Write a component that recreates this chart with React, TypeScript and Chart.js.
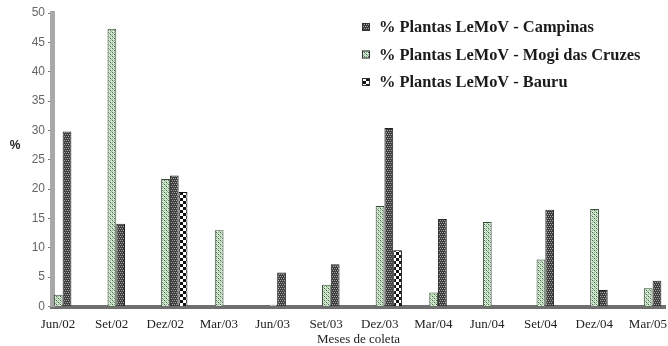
import React, { useEffect, useRef } from 'react';
import { Chart, registerables } from 'chart.js';

Chart.register(...registerables);

const categories = ['Jun/02', 'Set/02', 'Dez/02', 'Mar/03', 'Jun/03', 'Set/03', 'Dez/03', 'Mar/04', 'Jun/04', 'Set/04', 'Dez/04', 'Mar/05'];
const campinas: (number | null)[] = [29.8, 14.1, 22.3, null, 5.8, 7.2, 30.4, 14.9, null, 16.5, 2.8, 4.4];
const mogi: (number | null)[] = [2.0, 47.3, 21.7, 13.0, 0.3, 3.7, 17.1, 2.4, 14.4, 8.0, 16.6, 3.1];
const bauru: (number | null)[] = [null, null, 19.5, null, null, null, 9.6, null, null, null, null, null];
const yTicks = [0, 5, 10, 15, 20, 25, 30, 35, 40, 45, 50];
const legendLabels = ['% Plantas LeMoV - Campinas', '% Plantas LeMoV - Mogi das Cruzes', '% Plantas LeMoV - Bauru'];
const xTitle = 'Meses de coleta';
const yTitle = '%';

function makePattern(size: number, bg: string, layers: [string, number[][]][]): CanvasPattern | string {
  const c = document.createElement('canvas');
  c.width = size;
  c.height = size;
  const g = c.getContext('2d');
  if (!g) return bg;
  g.fillStyle = bg;
  g.fillRect(0, 0, size, size);
  layers.forEach(([color, cells]) => {
    g.fillStyle = color;
    cells.forEach(([x, y, w, h]) => g.fillRect(x, y, w, h));
  });
  const p = g.createPattern(c, 'repeat');
  return p || bg;
}

function toPoints(values: (number | null)[]) {
  const pts: { x: number; y: number }[] = [];
  values.forEach((v, i) => {
    if (v !== null) pts.push({ x: i, y: v });
  });
  return pts;
}

export default function App() {
  const ref = useRef<HTMLCanvasElement>(null);

  useEffect(() => {
    document.body.style.margin = '0';
    const canvas = ref.current;
    if (!canvas) return;

    const campPat = makePattern(4, '#3d3d3d', [['#a8a8a8', [[0, 0, 1, 1], [2, 0, 1, 1], [1, 2, 1, 1], [3, 2, 1, 1]]]]);
    const mogiPat = makePattern(4, '#d4ecd2', [
      ['#4d5d4d', [[0, 0, 1, 1], [2, 2, 1, 1]]],
      ['#8fae8d', [[2, 0, 1, 1], [0, 2, 1, 1], [1, 1, 1, 1], [3, 3, 1, 1]]],
    ]);
    const bauruPat = makePattern(6, '#ffffff', [['#111111', [[0, 0, 3, 3], [3, 3, 3, 3]]]]);

    const legendItems = [
      { text: legendLabels[0], fill: campPat },
      { text: legendLabels[1], fill: mogiPat },
      { text: legendLabels[2], fill: bauruPat },
    ];

    const overlay = {
      id: 'overlay',
      afterDraw(chart: Chart) {
        const ctx = chart.ctx;
        ctx.save();
        legendItems.forEach((it, i) => {
          const y = 27 + i * 27.5;
          ctx.fillStyle = it.fill as any;
          ctx.fillRect(362, y - 4, 8, 8);
          ctx.strokeStyle = '#333';
          ctx.lineWidth = 1;
          ctx.strokeRect(362.5, y - 3.5, 7, 7);
          ctx.fillStyle = '#1a1a1a';
          ctx.font = 'bold 16.4px "Liberation Serif", serif';
          ctx.textAlign = 'left';
          ctx.textBaseline = 'middle';
          ctx.fillText(it.text, 379, y + 1);
        });
        ctx.fillStyle = '#222';
        ctx.font = 'bold 12px "Liberation Sans", Arial, sans-serif';
        ctx.textAlign = 'center';
        ctx.textBaseline = 'middle';
        ctx.fillText(yTitle, 15, 146);
        ctx.restore();
      },
    };

    const chart = new Chart(canvas, {
      type: 'bar',
      data: {
        datasets: [
          { label: legendLabels[1], data: toPoints(mogi) as any, backgroundColor: mogiPat as any, borderColor: '#3a4a3a', borderWidth: 1 },
          { label: legendLabels[0], data: toPoints(campinas) as any, backgroundColor: campPat as any, borderColor: '#222', borderWidth: 1 },
          { label: legendLabels[2], data: toPoints(bauru) as any, backgroundColor: bauruPat as any, borderColor: '#111', borderWidth: 1 },
        ],
      },
      options: {
        animation: false,
        responsive: true,
        maintainAspectRatio: false,
        categoryPercentage: 0.49,
        barPercentage: 1.0,
        layout: { padding: { top: 13, right: 3, left: 0, bottom: 0 } },
        plugins: { legend: { display: false }, tooltip: { enabled: false } },
        scales: {
          x: {
            type: 'linear',
            offset: false,
            min: -0.28,
            max: 11.15,
            grid: { display: false, offset: false },
            border: { display: true, color: '#6f6f6f', width: 4 },
            ticks: {
              color: '#222',
              font: { family: '"Liberation Serif", serif', size: 13 },
              labelOffset: -9,
              padding: 2,
              autoSkip: false,
              maxRotation: 0,
              callback: (v: any) => categories[Math.round(Number(v))] ?? '',
            },
            afterBuildTicks: (s: any) => {
              s.ticks = categories.map((_, i) => ({ value: i }));
            },
            afterFit: (s: any) => {
              s.paddingLeft = 0;
              s.paddingRight = 0;
              s.height = 39.5;
            },
            title: {
              display: true,
              text: xTitle,
              color: '#222',
              font: { family: '"Liberation Serif", serif', size: 13, lineHeight: 1.0 },
              padding: { top: 0, bottom: 0 },
            },
          },
          y: {
            min: 0,
            max: 50,
            ticks: {
              color: '#666',
              font: { family: '"Liberation Sans", Arial, sans-serif', size: 12 },
              padding: 3,
            },
            afterBuildTicks: (s: any) => {
              s.ticks = yTicks.map((v) => ({ value: v }));
            },
            grid: { drawOnChartArea: false, drawTicks: true, tickLength: 4, color: '#777' },
            border: { display: true, color: '#a8a8a8', width: 5 },
            afterFit: (s: any) => {
              s.width = 52;
            },
          },
        },
      },
      plugins: [overlay],
    });

    return () => chart.destroy();
  }, []);

  return (
    <div style={{ position: 'relative', width: 668, height: 346 }}>
      <canvas ref={ref} />
    </div>
  );
}
